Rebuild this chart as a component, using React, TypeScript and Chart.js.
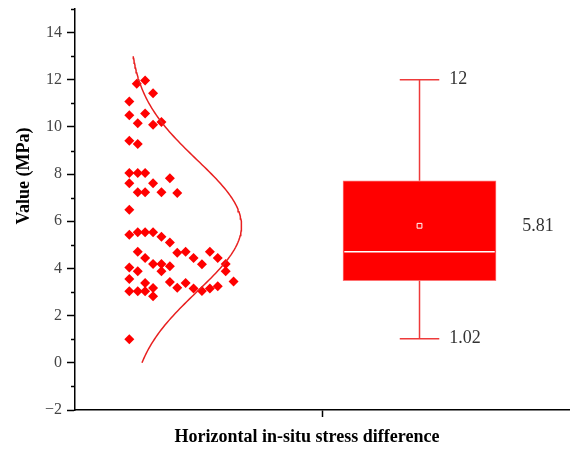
import React, { useEffect, useRef } from "react";
import { Chart, registerables } from "chart.js";

Chart.register(...registerables);

// ---- data ----
const Y_TITLE = "Value (MPa)";
const X_TITLE = "Horizontal in-situ stress difference";
const Y_MIN = -2;
const Y_MAX = 15;

// scatter (jittered raw data), x in axis units, y in MPa
const POINTS_X = [
  1.25, 1.42, 1.58, 1.1, 1.1, 1.42, 1.27, 1.58, 1.75, 1.1,
  1.27, 1.1, 1.27, 1.42, 1.92, 1.1, 1.58, 1.27, 1.42, 1.75,
  2.07, 1.1, 1.1, 1.27, 1.42, 1.58, 1.75, 1.92, 1.27, 1.42,
  2.07, 2.24, 2.4, 2.57, 2.73, 2.89, 3.05, 3.05, 3.21, 1.58,
  1.75, 1.92, 1.75, 1.1, 1.27, 1.1, 1.42, 1.58, 1.92, 2.07,
  2.24, 2.4, 2.57, 2.73, 2.89, 1.1, 1.27, 1.42, 1.58, 1.1,
];
const POINTS_Y = [
  11.83, 11.97, 11.43, 11.08, 10.5, 10.57, 10.16, 10.09, 10.21, 9.41,
  9.28, 8.05, 8.05, 8.05, 7.82, 7.61, 7.61, 7.23, 7.23, 7.23,
  7.2, 6.49, 5.43, 5.54, 5.54, 5.54, 5.35, 5.1, 4.71, 4.44,
  4.67, 4.71, 4.44, 4.18, 4.71, 4.44, 4.19, 3.88, 3.45, 4.19,
  4.19, 4.09, 3.88, 4.04, 3.88, 3.55, 3.38, 3.17, 3.43, 3.18,
  3.38, 3.15, 3.05, 3.15, 3.25, 3.03, 3.03, 3.03, 2.82, 1.0,
];

// box statistics
const BOX_MIN = 1.02;
const BOX_Q1 = 3.48;
const BOX_MEDIAN = 4.71;
const BOX_Q3 = 7.72;
const BOX_MAX = 12;
const BOX_MEAN = 5.81;
const LABEL_MAX = "12";
const LABEL_MEAN = "5.81";
const LABEL_MIN = "1.02";

// fitted normal curve parameters
const CURVE_MEAN = 5.81;
const CURVE_SD = 2.78;
const CURVE_Y_FROM = 0;
const CURVE_Y_TO = 13;

// ---- layout (axis units) ----
const X_MIN = 0;
const X_MAX = 10;
const X_TICK = 5;
const BOX_X = 6.974;
const BOX_HALF = 1.533;
const CAP_HALF = 0.4;
const CURVE_BASE = 1.1;
const CURVE_AMP = 2.27;

const RED = "#ff0000";
const WHISKER = "#ee3a3a";
const SERIF = "'Liberation Serif', 'DejaVu Serif', serif";

function buildCurve() {
  const pts: { x: number; y: number }[] = [];
  const n = 130;
  for (let i = 0; i <= n; i++) {
    const y = CURVE_Y_FROM + ((CURVE_Y_TO - CURVE_Y_FROM) * i) / n;
    const z = (y - CURVE_MEAN) / CURVE_SD;
    pts.push({ x: CURVE_BASE + CURVE_AMP * Math.exp(-0.5 * z * z), y });
  }
  return pts;
}

const decorPlugin = {
  id: "decor",
  afterDraw(chart: any) {
    const { ctx, scales } = chart;
    const xs = scales.x;
    const ys = scales.y;
    ctx.save();
    // minor ticks on y axis
    ctx.strokeStyle = "#000";
    ctx.lineWidth = 1.5;
    for (let v = Y_MIN + 1; v <= Y_MAX; v += 2) {
      const py = Math.round(ys.getPixelForValue(v)) + 0.5;
      ctx.beginPath();
      ctx.moveTo(xs.left - 4, py);
      ctx.lineTo(xs.left, py);
      ctx.stroke();
    }
    // box labels
    ctx.fillStyle = "#333";
    ctx.font = `18px ${SERIF}`;
    ctx.textBaseline = "middle";
    ctx.textAlign = "left";
    const capRight = xs.getPixelForValue(BOX_X + CAP_HALF);
    const boxRight = xs.getPixelForValue(BOX_X + BOX_HALF);
    ctx.fillText(LABEL_MAX, capRight + 10, ys.getPixelForValue(BOX_MAX));
    ctx.fillText(LABEL_MIN, capRight + 10, ys.getPixelForValue(BOX_MIN));
    ctx.fillText(LABEL_MEAN, boxRight + 27, ys.getPixelForValue(BOX_MEAN));
    // axis titles
    ctx.fillStyle = "#000";
    ctx.font = `bold 18px ${SERIF}`;
    ctx.textAlign = "center";
    ctx.fillText(X_TITLE, 307, 437);
    ctx.translate(24, 176);
    ctx.rotate(-Math.PI / 2);
    ctx.fillText(Y_TITLE, 0, 0);
    ctx.restore();
  },
};

export default function App() {
  const ref = useRef<HTMLCanvasElement | null>(null);
  useEffect(() => {
    if (!ref.current) return;
    const curve = buildCurve();
    const scatter = POINTS_X.map((x, i) => ({ x, y: POINTS_Y[i] }));
    const chart = new Chart(ref.current, {
      type: "scatter",
      data: {
        datasets: [
          {
            type: "bar",
            data: [{ x: BOX_X, y: [BOX_Q1, BOX_Q3] }] as any,
            backgroundColor: RED,
            borderColor: "#ff7070",
            borderWidth: 1,
            borderSkipped: false,
            barThickness: 153,
            order: 6,
          } as any,
          {
            data: [
              { x: BOX_X, y: BOX_Q3 },
              { x: BOX_X, y: BOX_MAX },
            ],
            showLine: true,
            borderColor: WHISKER,
            borderWidth: 1.5,
            pointRadius: 0,
            order: 5,
          },
          {
            data: [
              { x: BOX_X, y: BOX_Q1 },
              { x: BOX_X, y: BOX_MIN },
            ],
            showLine: true,
            borderColor: WHISKER,
            borderWidth: 1.5,
            pointRadius: 0,
            order: 5,
          },
          {
            data: [
              { x: BOX_X - CAP_HALF, y: BOX_MAX },
              { x: BOX_X + CAP_HALF, y: BOX_MAX },
            ],
            showLine: true,
            borderColor: WHISKER,
            borderWidth: 1.5,
            pointRadius: 0,
            order: 5,
          },
          {
            data: [
              { x: BOX_X - CAP_HALF, y: BOX_MIN },
              { x: BOX_X + CAP_HALF, y: BOX_MIN },
            ],
            showLine: true,
            borderColor: WHISKER,
            borderWidth: 1.5,
            pointRadius: 0,
            order: 5,
          },
          {
            data: [
              { x: BOX_X - BOX_HALF + 0.01, y: BOX_MEDIAN },
              { x: BOX_X + BOX_HALF - 0.01, y: BOX_MEDIAN },
            ],
            showLine: true,
            borderColor: "#ffffff",
            borderWidth: 1.5,
            pointRadius: 0,
            order: 1,
          },
          {
            data: [{ x: BOX_X, y: BOX_MEAN }],
            pointStyle: "rect",
            pointRadius: 3.4,
            backgroundColor: "rgba(0,0,0,0)",
            borderColor: "#ffffff",
            borderWidth: 1,
            order: 0,
          },
          {
            data: scatter,
            pointStyle: "rectRot",
            pointRadius: 5,
            backgroundColor: RED,
            borderColor: RED,
            borderWidth: 0,
            order: 3,
          },
          {
            data: curve,
            showLine: true,
            borderColor: "#e82020",
            borderWidth: 1.5,
            pointRadius: 0,
            order: 2,
          },
        ],
      },
      options: {
        animation: false,
        responsive: false,
        events: [],
        layout: { padding: { top: 9, right: 0, left: 0, bottom: 0 } },
        plugins: { legend: { display: false }, tooltip: { enabled: false } },
        scales: {
          x: {
            type: "linear",
            min: X_MIN,
            max: X_MAX,
            offset: false,
            afterBuildTicks: (s: any) => {
              s.ticks = [{ value: X_TICK }];
            },
            afterFit: (s: any) => {
              s.height = 39;
              s.paddingLeft = 0;
              s.paddingRight = 0;
            },
            ticks: { callback: () => "", font: { size: 1 } },
            grid: {
              offset: false,
              drawOnChartArea: false,
              drawTicks: true,
              tickLength: 7,
              tickColor: "#000",
              tickWidth: 1.5,
            },
            border: { color: "#000", width: 1.5 },
          },
          y: {
            type: "linear",
            min: Y_MIN,
            max: Y_MAX,
            afterFit: (s: any) => {
              s.width = 75;
              s.paddingTop = 0;
              s.paddingBottom = 0;
            },
            ticks: {
              stepSize: 1,
              padding: 5,
              color: "#444",
              font: { family: SERIF, size: 16 },
              callback: (v: any) => (Number(v) % 2 === 0 ? String(v).replace("-", "\u2212") : ""),
            },
            grid: {
              drawOnChartArea: false,
              drawTicks: true,
              tickLength: 8,
              tickWidth: 1.5,
              tickColor: (c: any) =>
                c.tick && Math.abs(c.tick.value % 2) === 0 ? "#000" : "rgba(0,0,0,0)",
            },
            border: { color: "#000", width: 1.5 },
          },
        },
      },
      plugins: [decorPlugin],
    } as any);
    return () => chart.destroy();
  }, []);
  return (
    <canvas
      ref={ref}
      width={574}
      height={449}
      style={{ position: "absolute", left: 0, top: 0, width: 574, height: 449 }}
    />
  );
}
